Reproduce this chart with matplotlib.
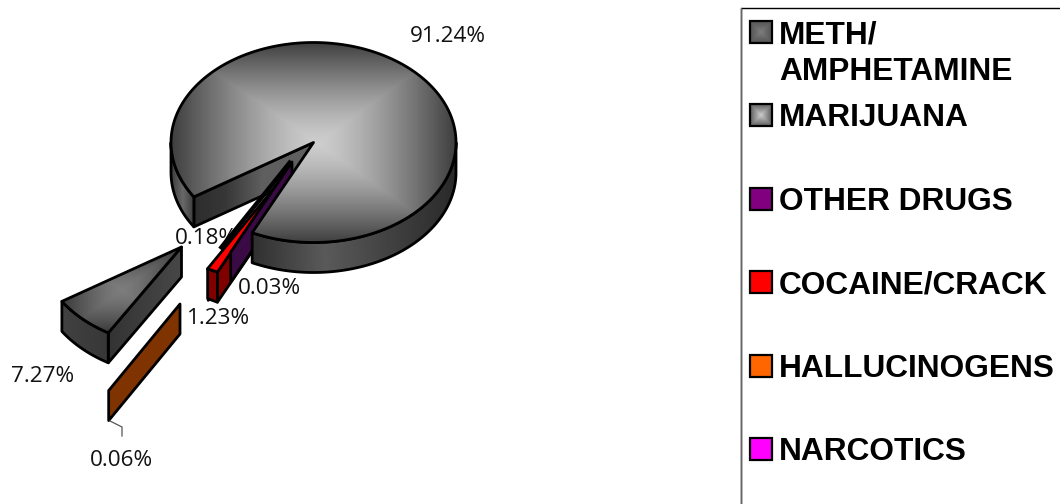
import numpy as np
import matplotlib
matplotlib.use("Agg")
import matplotlib.pyplot as plt
from matplotlib.patches import Polygon, Rectangle

categories = ["METH/\nAMPHETAMINE", "MARIJUANA", "OTHER DRUGS", "COCAINE/CRACK", "HALLUCINOGENS", "NARCOTICS"]
values = [91.24, 7.27, 0.03, 1.23, 0.06, 0.18]
value_labels = ["91.24%", "7.27%", "0.03%", "1.23%", "0.06%", "0.18%"]
swatch_colors = ["#6e6e6e", "#a8a8a8", "#800080", "#ff0000", "#ff6600", "#ff00ff"]

# drawing order round the pie, clockwise from the start angle
ring_order = [2, 3, 4, 5, 1, 0]
START = 115.5
RX, RY, DEPTH = 142.5, 100, 30
APEX = {0: (313.5, 142.5), 1: (181.5, 247), 2: (292, 162), 3: (279, 182), 4: (180, 304), 5: (280, 184)}
LABEL_POS = {0: (448, 36), 1: (43, 377), 2: (269, 289), 3: (219, 319), 4: (121, 460), 5: (206, 239)}

fig = plt.figure(figsize=(10.6, 5.04), dpi=100)
ax = fig.add_axes([0, 0, 1, 1])
ax.set_xlim(0, 1060)
ax.set_ylim(504, 0)
ax.axis("off")

total = sum(values)
ang = {}
a = START
for i in ring_order:
    ang[i] = (a, a + values[i] / total * 360)
    a = ang[i][1]


def arc(apex, a0, a1, dy=0):
    t = np.radians(np.linspace(a0, a1, max(int(abs(a1 - a0) * 2), 2)))
    return np.column_stack([apex[0] + RX * np.cos(t), apex[1] + dy + RY * np.sin(t)])


def fill(poly, img, extent, z, lw=2.0, vmax=255):
    patch = Polygon(poly, closed=True, fc="none", ec="none", transform=ax.transData)
    ax.add_patch(patch)
    im = ax.imshow(img, extent=extent, cmap="gray", vmin=0, vmax=vmax, aspect="auto",
                   zorder=z, interpolation="bilinear")
    im.set_clip_path(patch)
    ax.add_patch(Polygon(poly, closed=True, fc="none", ec="black", lw=lw, zorder=z + 0.1, joinstyle="round"))


def box_gradient(x0, x1, y0, y1, cx, cy, hi, lo, power=1.35):
    xs = np.linspace(x0, x1, 300)
    ys = np.linspace(y0, y1, 300)
    X, Y = np.meshgrid(xs, ys)
    u = np.where(X < cx, (cx - X) / (cx - x0), (X - cx) / (x1 - cx))
    v = np.where(Y < cy, (cy - Y) / (cy - y0), (Y - cy) / (y1 - cy))
    d = np.maximum(u, v)
    return hi + (lo - hi) * d ** power


def h_gradient(x0, x1, stops):
    xs = np.linspace(x0, x1, 400)
    fx, fv = zip(*stops)
    return np.interp(xs, fx, fv)[None, :]


def wall(p_top, img_stops, z, lw=2.0):
    poly = np.vstack([p_top, p_top[::-1] + [0, DEPTH]])
    x0, x1 = poly[:, 0].min(), poly[:, 0].max()
    y0, y1 = poly[:, 1].min(), poly[:, 1].max()
    fill(poly, h_gradient(x0, x1, img_stops), (x0, x1, y1, y0), z, lw)


def flat(poly, color, z, lw=2.0):
    ax.add_patch(Polygon(poly, closed=True, fc=color, ec="black", lw=lw, zorder=z, joinstyle="round"))


def flat_wall(p_top, color, z, lw=2.0):
    flat(np.vstack([p_top, p_top[::-1] + [0, DEPTH]]), color, z, lw)


def edge(apex, t):
    return np.array([apex, arc(apex, t, t)[0]])


# labels under the slivers where the reference hides them
for i, lab in enumerate(value_labels):
    ax.text(*LABEL_POS[i], lab, ha="center", va="center", fontsize=16.2, family="Open Sans",
            color="#111111", zorder=3 if i == 5 else 30)

# meth inner wall
m0, m1 = ang[0]
wall(edge(APEX[0], m0), [(195, 45), (225, 55), (262, 95), (320, 95)], 4)

# narcotics
n = APEX[5]
flat_wall(edge(n, ang[5][0]), "#3a3a3a", 5)
flat(np.vstack([[n], arc(n, *ang[5])]), "#7f007f", 5.2, 1.0)
ax.plot([220, 291], [249, 161], color="black", lw=3.2, zorder=5.3, solid_capstyle="butt")

# cocaine
c = APEX[3]
flat_wall(edge(c, ang[3][0]), "#800000", 6)
flat_wall(arc(c, *ang[3]), "#800000", 6)
flat(np.vstack([[c], arc(c, *ang[3])]), "#ff0000", 6.3)

# other drugs: sliver, wall visible
p = APEX[2]
flat_wall(edge(p, ang[2][0]), "#3a0a44", 7)

# meth outer walls
wall(arc(APEX[0], m0, 180), [(171, 60), (183, 105), (195, 55)], 8)
wall(arc(APEX[0], 360, m1), [(253, 48), (325, 90), (400, 62), (456, 42)], 8)

# meth top
poly = np.vstack([[APEX[0]], arc(APEX[0], m0, m1)])
fill(poly, box_gradient(171, 456, 42, 243, 318, 143, 205, 62), (171, 456, 243, 42), 9)

# marijuana
mj = APEX[1]
b0, b1 = ang[1]
wall(arc(mj, b0, b1), [(64, 65), (110, 55)], 11)
wall(edge(mj, b0), [(110, 52), (182, 72)], 11)
poly = np.vstack([[mj], arc(mj, b0, b1)])
x0, x1, y0, y1 = poly[:, 0].min(), poly[:, 0].max(), poly[:, 1].min(), poly[:, 1].max()
fill(poly, box_gradient(x0, x1, y0, y1, (x0 + x1) / 2, (y0 + y1) / 2, 125, 58), (x0, x1, y1, y0), 12)

# hallucinogens: wall only
flat_wall(edge(APEX[4], ang[4][0]), "#7f3300", 13)
ax.plot([110, 122, 122], [421, 427, 436], color="#555555", lw=0.9, zorder=13)

# legend
ax.add_patch(Rectangle((740.5, 7.5), 400, 600, fc="none", ec="black", lw=1.0, zorder=1))
ax.plot([740.5, 740.5], [7.5, 504], color="#666666", lw=1.0, zorder=1.1)
legend_y = [32, 115, 199, 282, 366, 449]
LEG_FS = 22.8
for i, (name, y) in enumerate(zip(categories, legend_y)):
    if i < 2:
        xs = np.linspace(-1, 1, 40)
        X, Y = np.meshgrid(xs, xs)
        d = np.maximum(abs(X), abs(Y))
        hi, lo = (125, 85) if i == 0 else (205, 95)
        ax.imshow(hi + (lo - hi) * d, extent=(750, 772, y + 11, y - 11), cmap="gray",
                  vmin=0, vmax=255, aspect="auto", zorder=20, interpolation="bilinear")
        ax.add_patch(Rectangle((750, y - 11), 22, 22, fc="none", ec="black", lw=1.6, zorder=21))
    else:
        ax.add_patch(Rectangle((750, y - 11), 22, 22, fc=swatch_colors[i], ec="black", lw=1.6, zorder=21))
    lines = name.split("\n")
    bases = [43, 80] if len(lines) == 2 else [y + 11]
    for line, base in zip(lines, bases):
        ax.text(779, base, line, ha="left", va="baseline", fontsize=LEG_FS, family="Liberation Sans",
                fontweight="bold", color="black", zorder=22)

ax.set_xlim(0, 1060)
ax.set_ylim(504, 0)
fig.savefig("out.png", dpi=100, facecolor="white")
